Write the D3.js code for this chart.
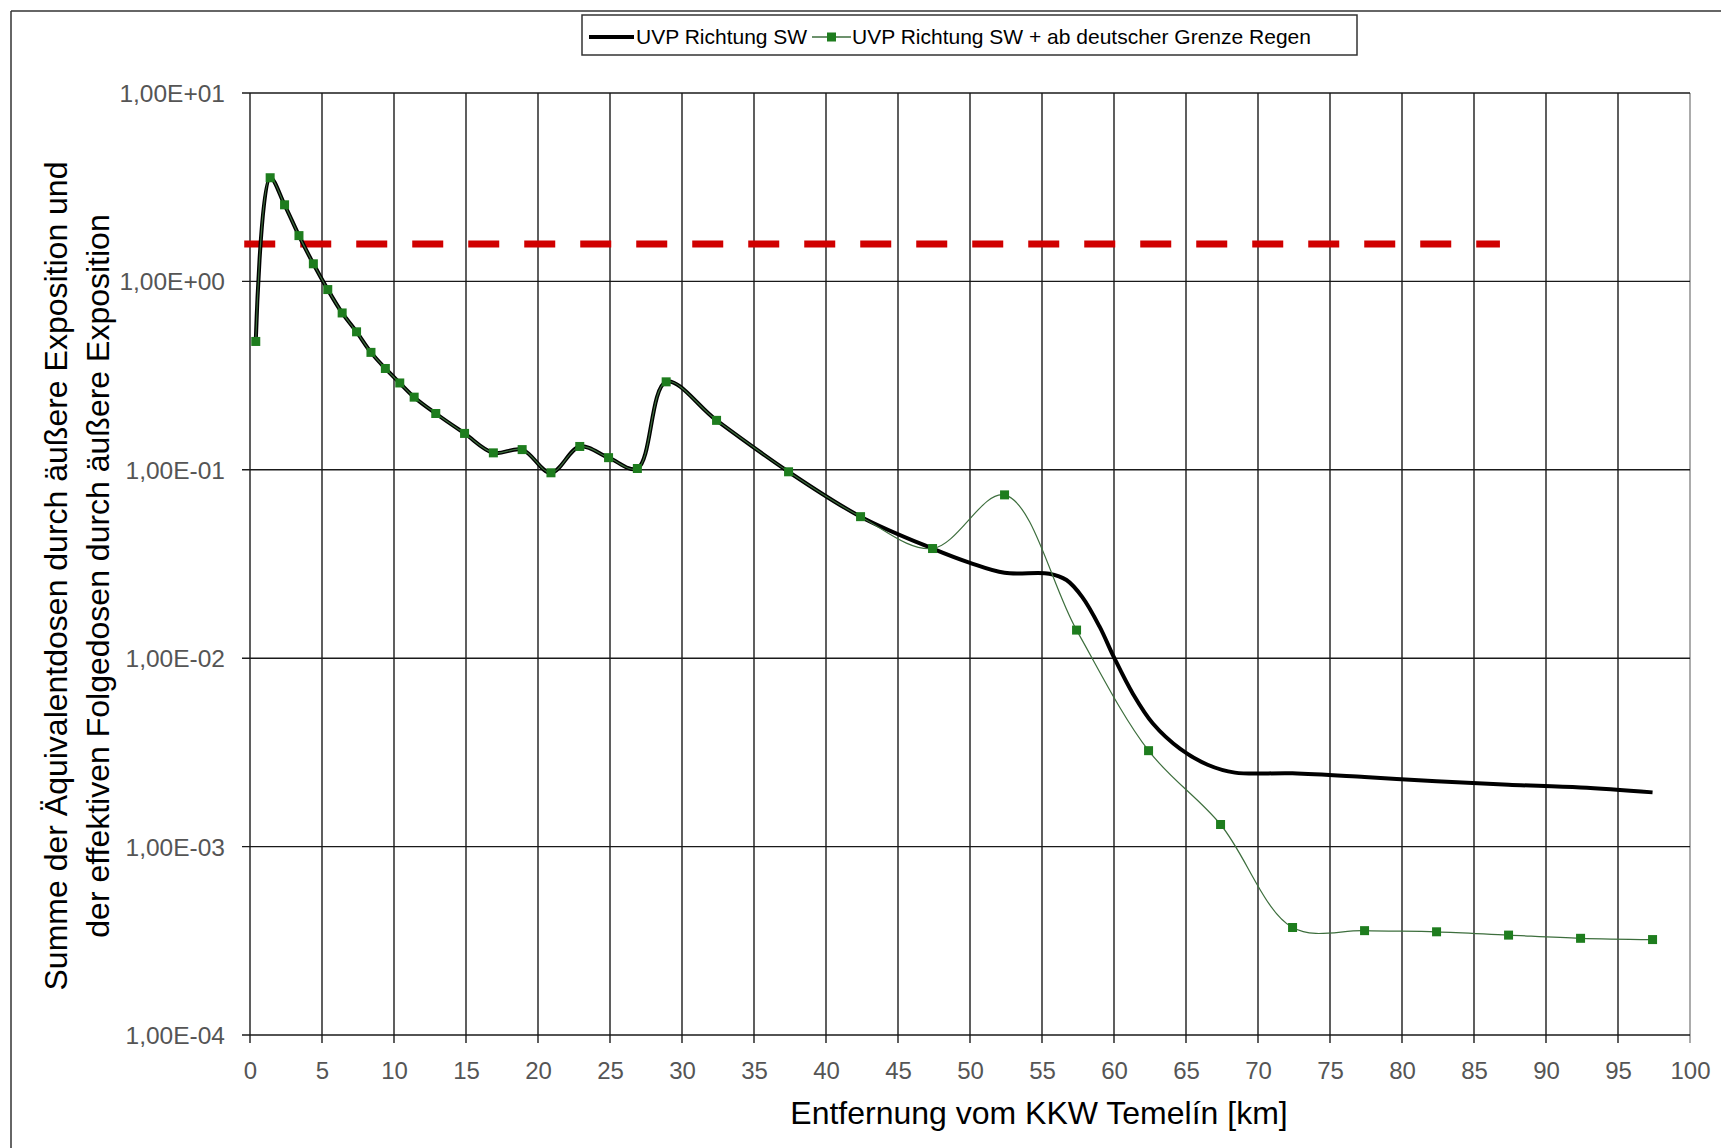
<!DOCTYPE html>
<html>
<head>
<meta charset="utf-8">
<script src="https://cdn.jsdelivr.net/npm/d3@7"></script>
<style>
  html, body { margin: 0; padding: 0; background: #fff; }
  svg { display: block; }
  text { font-family: Arial, "Liberation Sans", sans-serif; }
</style>
</head>
<body>
<svg id="chart" width="1721" height="1148"></svg>
<script>
// ---- data ----
const greenKm = [0.4, 1.4, 2.4, 3.4, 4.4, 5.4, 6.4, 7.4, 8.4, 9.4, 10.4, 11.4, 12.9, 14.9, 16.9, 18.9, 20.9, 22.9, 24.9, 26.9, 28.9, 32.4, 37.4, 42.4, 47.4, 52.4, 57.4, 62.4, 67.4, 72.4, 77.4, 82.4, 87.4, 92.4, 97.4];
const greenDose = [0.48, 3.55, 2.55, 1.75, 1.24, 0.905, 0.68, 0.54, 0.42, 0.345, 0.289, 0.243, 0.199, 0.156, 0.123, 0.128, 0.0964, 0.133, 0.116, 0.1016, 0.293, 0.183, 0.0976, 0.0564, 0.0382, 0.0736, 0.0141, 0.00323, 0.00131, 0.000372, 0.000358, 0.000353, 0.000339, 0.000326, 0.000321];

const blackKm = [0.4, 1.4, 2.4, 3.4, 4.4, 5.4, 6.4, 7.4, 8.4, 9.4, 10.4, 11.4, 12.9, 14.9, 16.9, 18.9, 20.9, 22.9, 24.9, 26.9, 28.9, 32.4, 37.4, 42.4, 47.4, 50.0, 52.4, 55.5, 56.7, 57.8, 59.0, 60.0, 61.3, 62.7, 64.6, 66.5, 68.4, 72.4, 77.4, 82.4, 87.4, 92.4, 97.4];
const blackDose = [0.48, 3.55, 2.55, 1.75, 1.24, 0.905, 0.68, 0.54, 0.42, 0.345, 0.289, 0.243, 0.199, 0.156, 0.123, 0.128, 0.0964, 0.133, 0.116, 0.1016, 0.293, 0.183, 0.0976, 0.0564, 0.0382, 0.0321, 0.0284, 0.0281, 0.0260, 0.0211, 0.0147, 0.0101, 0.0065, 0.0045, 0.0033, 0.00272, 0.00247, 0.00245, 0.00234, 0.00222, 0.00213, 0.00206, 0.00194];

const thresholdValue = 1.58;
const thresholdRange = [-0.4, 86.8];

const xTicks = [0, 5, 10, 15, 20, 25, 30, 35, 40, 45, 50, 55, 60, 65, 70, 75, 80, 85, 90, 95, 100];
const yTicks = [1e-4, 1e-3, 1e-2, 1e-1, 1, 10];

const seriesNames = ["UVP Richtung SW", "UVP Richtung SW + ab deutscher Grenze Regen"];
const xTitle = "Entfernung vom KKW Temelín [km]";
const yTitleLines = ["Summe der Äquivalentdosen durch äußere Exposition und", "der effektiven Folgedosen durch äußere Exposition"];

// ---- layout ----
const svg = d3.select("#chart");
const L = 250, R = 1690, T = 93, B = 1035;
const x = d3.scaleLinear().domain([0, 100]).range([L, R]);
const y = d3.scaleLog().domain([1e-4, 10]).range([B, T]);

const fmtE = v => {
  const e = Math.round(Math.log10(v));
  const s = e < 0 ? "-" : "+";
  return "1,00E" + s + String(Math.abs(e)).padStart(2, "0");
};

// outer chart frame
svg.append("line").attr("x1", 11).attr("x2", 1721).attr("y1", 11).attr("y2", 11).attr("stroke", "#333").attr("stroke-width", 1.5);
svg.append("line").attr("x1", 11).attr("x2", 11).attr("y1", 11).attr("y2", 1148).attr("stroke", "#333").attr("stroke-width", 1.5);

// gridlines
const gridColor = "#1a1a1a";
svg.append("g").selectAll("line").data(xTicks).join("line")
  .attr("x1", d => x(d)).attr("x2", d => x(d)).attr("y1", T).attr("y2", B + 8)
  .attr("stroke", d => d === 100 ? "#888" : gridColor).attr("stroke-width", 1.4);
svg.append("g").selectAll("line").data(yTicks).join("line")
  .attr("x1", L - 8).attr("x2", R).attr("y1", d => y(d)).attr("y2", d => y(d))
  .attr("stroke", gridColor).attr("stroke-width", 1.4);

// axes labels via d3 axes (no domain path)
const xAxis = d3.axisBottom(x).tickValues(xTicks).tickSize(0).tickPadding(0).tickFormat(d3.format("d"));
const gx = svg.append("g").attr("transform", `translate(0,${B})`).call(xAxis);
gx.select(".domain").remove();
gx.selectAll("text").attr("y", 44).attr("dy", null).attr("font-size", 24).attr("fill", "#555").attr("font-family", "Arial, 'Liberation Sans', sans-serif");

const yAxis = d3.axisLeft(y).tickValues(yTicks).tickSize(0).tickPadding(0).tickFormat(fmtE);
const gy = svg.append("g").attr("transform", `translate(${L},0)`).call(yAxis);
gy.select(".domain").remove();
gy.selectAll("text").attr("x", -25).attr("dy", "0.35em").attr("font-size", 24.5).attr("fill", "#555").attr("font-family", "Arial, 'Liberation Sans', sans-serif");

// threshold dashed line
svg.append("line")
  .attr("x1", x(thresholdRange[0])).attr("x2", x(thresholdRange[1]))
  .attr("y1", y(thresholdValue)).attr("y2", y(thresholdValue))
  .attr("stroke", "#d00000").attr("stroke-width", 7).attr("stroke-dasharray", "31,25");

const curve = d3.curveCatmullRom.alpha(0.5);
const blackData = blackKm.map((k, i) => [k, blackDose[i]]);
const greenData = greenKm.map((k, i) => [k, greenDose[i]]);
const line = d3.line().x(d => x(d[0])).y(d => y(d[1])).curve(curve);

// black series
svg.append("path").attr("d", line(blackData)).attr("fill", "none")
  .attr("stroke", "#000").attr("stroke-width", 4).attr("stroke-linejoin", "round");

// green series
svg.append("path").attr("d", line(greenData)).attr("fill", "none")
  .attr("stroke", "#3d6e3d").attr("stroke-width", 1.2);
svg.append("g").selectAll("rect").data(greenData).join("rect")
  .attr("x", d => x(d[0]) - 4.5).attr("y", d => y(d[1]) - 4.5)
  .attr("width", 9).attr("height", 9).attr("fill", "#1e7d1e");

// legend
const lg = svg.append("g");
lg.append("rect").attr("x", 582).attr("y", 15).attr("width", 775).attr("height", 40)
  .attr("fill", "#fff").attr("stroke", "#333").attr("stroke-width", 1.5);
lg.append("line").attr("x1", 589).attr("x2", 634).attr("y1", 37).attr("y2", 37).attr("stroke", "#000").attr("stroke-width", 4);
lg.append("text").attr("x", 636).attr("y", 44).attr("font-size", 21).attr("fill", "#000").text(seriesNames[0]);
lg.append("line").attr("x1", 812).attr("x2", 851).attr("y1", 37).attr("y2", 37).attr("stroke", "#3d6e3d").attr("stroke-width", 1.5);
lg.append("rect").attr("x", 827).attr("y", 32.5).attr("width", 9).attr("height", 9).attr("fill", "#1e7d1e");
lg.append("text").attr("x", 852).attr("y", 44).attr("font-size", 21).attr("fill", "#000").text(seriesNames[1]);

// titles
svg.append("text").attr("x", 1039).attr("y", 1124).attr("text-anchor", "middle")
  .attr("font-size", 32).attr("fill", "#000").text(xTitle);
const yt = svg.append("g").attr("transform", "translate(0,576) rotate(-90)");
yt.append("text").attr("x", 0).attr("y", 67).attr("text-anchor", "middle").attr("font-size", 32).attr("fill", "#000").text(yTitleLines[0]);
yt.append("text").attr("x", 0).attr("y", 109).attr("text-anchor", "middle").attr("font-size", 32).attr("fill", "#000").text(yTitleLines[1]);
</script>
</body>
</html>
